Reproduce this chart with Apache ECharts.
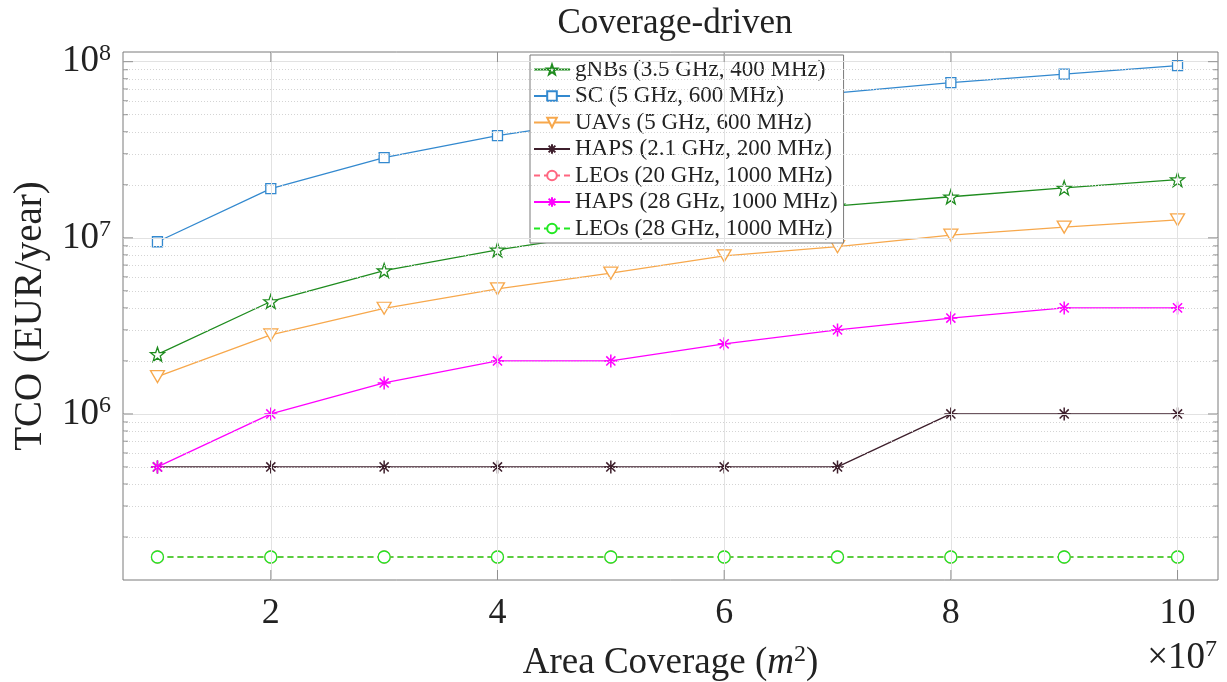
<!DOCTYPE html>
<html>
<head>
<meta charset="utf-8">
<script src="https://cdn.jsdelivr.net/npm/echarts@6/dist/echarts.min.js"></script>
<style>html,body{margin:0;padding:0;background:#fff;}#c{width:1227px;height:682px;}</style>
</head>
<body>
<div id="c"></div>
<script>
// ---- data ----
const xValues = [1e7, 2e7, 3e7, 4e7, 5e7, 6e7, 7e7, 8e7, 9e7, 1e8];
const gnbs   = [2.18e6, 4.35e6, 6.52e6, 8.55e6, 1.07e7, 1.29e7, 1.52e7, 1.71e7, 1.92e7, 2.14e7];
const sc     = [9.5e6, 1.9e7, 2.85e7, 3.8e7, 4.75e7, 5.7e7, 6.66e7, 7.6e7, 8.5e7, 9.5e7];
const uavs   = [1.63e6, 2.81e6, 3.98e6, 5.13e6, 6.3e6, 7.9e6, 8.9e6, 1.036e7, 1.15e7, 1.265e7];
const haps21 = [5e5, 5e5, 5e5, 5e5, 5e5, 5e5, 5e5, 1e6, 1e6, 1e6];
const leos20 = [1.54e5, 1.54e5, 1.54e5, 1.54e5, 1.54e5, 1.54e5, 1.54e5, 1.54e5, 1.54e5, 1.54e5];
const haps28 = [5e5, 1e6, 1.5e6, 2e6, 2e6, 2.5e6, 3e6, 3.5e6, 4e6, 4e6];
const leos28 = [1.54e5, 1.54e5, 1.54e5, 1.54e5, 1.54e5, 1.54e5, 1.54e5, 1.54e5, 1.54e5, 1.54e5];
const seriesNames = ['gNBs (3.5 GHz, 400 MHz)', 'SC (5 GHz, 600 MHz)', 'UAVs (5 GHz, 600 MHz)',
  'HAPS (2.1 GHz, 200 MHz)', 'LEOs (20 GHz, 1000 MHz)', 'HAPS (28 GHz, 1000 MHz)', 'LEOs (28 GHz, 1000 MHz)'];
const xTickValues = [2e7, 4e7, 6e7, 8e7, 1e8];
const yMajorValues = [1e6, 1e7, 1e8];
const yMinorValues = [2e5, 3e5, 4e5, 5e5, 6e5, 7e5, 8e5, 9e5,
  2e6, 3e6, 4e6, 5e6, 6e6, 7e6, 8e6, 9e6,
  2e7, 3e7, 4e7, 5e7, 6e7, 7e7, 8e7, 9e7];
const X_MIN = 0.696e7, X_MAX = 10.357e7;
const Y_MIN = Math.pow(10, 5.057), Y_MAX = Math.pow(10, 8.055);

// ---- style ----
const FONT = 'Liberation Serif';
const AX = '#7a7a7a';
const STAR = 'path://M0,-10 L2.35,-3.24 L9.51,-3.09 L3.8,1.24 L5.88,8.09 L0,4 L-5.88,8.09 L-3.8,1.24 L-9.51,-3.09 L-2.35,-3.24 Z';
const AST = 'path://M0,-10 L0,10 M-10,0 L10,0 M-7,-7 L7,7 M-7,7 L7,-7';

function pts(arr) { return xValues.map((x, i) => [x, arr[i]]); }

function lineSeries(name, arr, color, symbol, size, opts) {
  opts = opts || {};
  return {
    name: name, type: 'line', data: pts(arr), z: 3,
    symbol: symbol, symbolSize: size, showAllSymbol: true,
    symbolRotate: opts.rotate || 0,
    lineStyle: { color: color, width: 1.3, type: opts.dash ? [6, 4] : 'solid' },
    itemStyle: { color: opts.filled ? color : '#fff', borderColor: color, borderWidth: opts.bw || 1.3 },
    emphasis: { disabled: true }, animation: false
  };
}

function tickSeries(data, size, offset) {
  return {
    type: 'scatter', data: data, symbol: 'rect', symbolSize: size, symbolOffset: offset,
    itemStyle: { color: AX }, silent: true, z: 5, animation: false, clip: false
  };
}

const series = [];
series.push({
  type: 'line', data: [], silent: true, z: 1, animation: false,
  markLine: {
    silent: true, symbol: ['none', 'none'], animation: false,
    label: { show: false },
    data: [].concat(
      yMinorValues.map(v => ({ yAxis: v, lineStyle: { color: '#d4d4d4', type: [1, 2], width: 1 } })),
      yMajorValues.map(v => ({ yAxis: v, lineStyle: { color: '#e2e2e2', type: 'solid', width: 1 } })),
      xTickValues.map(v => ({ xAxis: v, lineStyle: { color: '#e2e2e2', type: 'solid', width: 1 } }))
    )
  }
});
series.push(lineSeries(seriesNames[0], gnbs, '#1f8c1f', STAR, 14));
series.push(lineSeries(seriesNames[1], sc, '#3389cf', 'rect', 10));
series.push(lineSeries(seriesNames[2], uavs, '#f7a84c', 'triangle', [14, 12], { rotate: 180 }));
series.push(lineSeries(seriesNames[3], haps21, '#3e1f2c', AST, 13, { filled: true, bw: 1.5 }));
series.push(lineSeries(seriesNames[4], leos20, '#ff6680', 'circle', 12, { dash: true }));
series.push(lineSeries(seriesNames[5], haps28, '#ff00ff', AST, 13, { filled: true, bw: 1.5 }));
series.push(lineSeries(seriesNames[6], leos28, '#22e822', 'circle', 12, { dash: true }));
series.push(tickSeries(yMajorValues.map(v => [X_MIN, v]), [10, 1], [5, 0]));
series.push(tickSeries(yMajorValues.map(v => [X_MAX, v]), [10, 1], [-5, 0]));
series.push(tickSeries(yMinorValues.map(v => [X_MIN, v]), [5, 1], [2.5, 0]));
series.push(tickSeries(yMinorValues.map(v => [X_MAX, v]), [5, 1], [-2.5, 0]));
series.push(tickSeries(xTickValues.map(v => [v, Y_MIN]), [1, 10], [0, -5]));
series.push(tickSeries(xTickValues.map(v => [v, Y_MAX]), [1, 10], [0, 5]));

const chart = echarts.init(document.getElementById('c'), null, { renderer: 'canvas' });
chart.setOption({
  backgroundColor: '#fff',
  animation: false,
  title: {
    text: 'Coverage-driven', left: 670, top: 1, textAlign: 'center',
    textStyle: { fontFamily: FONT, fontSize: 35, fontWeight: 'normal', color: '#222' }
  },
  grid: { left: 123, top: 52, width: 1095, height: 528, outerBoundsMode: 'none', containLabel: false,
    show: true, borderColor: AX, borderWidth: 1, backgroundColor: 'transparent' },
  xAxis: {
    type: 'value', min: X_MIN, max: X_MAX,
    axisLine: { show: false }, axisTick: { show: false }, splitLine: { show: false },
    axisLabel: {
      customValues: xTickValues, margin: 16,
      formatter: v => String(Math.round(v / 1e7)),
      fontFamily: FONT, fontSize: 36, color: '#222'
    },
    name: '{n|Area Coverage (}{i|m}{s|2}{n|)}', nameLocation: 'middle', nameGap: 63,
    nameTextStyle: {
      rich: {
        n: { fontFamily: FONT, fontSize: 37, color: '#222' },
        i: { fontFamily: FONT, fontSize: 37, fontStyle: 'italic', color: '#222' },
        s: { fontFamily: FONT, fontSize: 24, color: '#222', padding: [0, 0, 17, 0] }
      }
    }
  },
  yAxis: {
    type: 'log', logBase: 10, min: Y_MIN, max: Y_MAX,
    axisLine: { show: false }, axisTick: { show: false }, splitLine: { show: false }, minorTick: { show: false },
    axisLabel: {
      showMinLabel: false, showMaxLabel: false, margin: 12,
      formatter: v => '{b|10}{s|' + Math.round(Math.log10(v)) + '}',
      rich: {
        b: { fontFamily: FONT, fontSize: 37, color: '#222' },
        s: { fontFamily: FONT, fontSize: 24, color: '#222', padding: [0, 0, 16, 0] }
      }
    },
    name: 'TCO (EUR/year)', nameLocation: 'middle', nameGap: 73,
    nameTextStyle: { fontFamily: FONT, fontSize: 39, color: '#222' }
  },
  legend: {
    data: seriesNames, orient: 'vertical', left: 530, top: 55,
    backgroundColor: '#fff', borderColor: AX, borderWidth: 1,
    padding: [3, 6, 3, 3], itemGap: 3.5, itemWidth: 36, itemHeight: 12,
    textStyle: { fontFamily: FONT, fontSize: 23, color: '#222' },
    selectedMode: false
  },
  graphic: [{
    type: 'text', right: 10, top: 638, silent: true,
    style: {
      text: '{a|\u00d710}{s|7}',
      rich: {
        a: { fontFamily: FONT, fontSize: 37, fill: '#222' },
        s: { fontFamily: FONT, fontSize: 24, fill: '#222', padding: [0, 0, 17, 0] }
      }
    }
  }],
  series: series
});
</script>
</body>
</html>
